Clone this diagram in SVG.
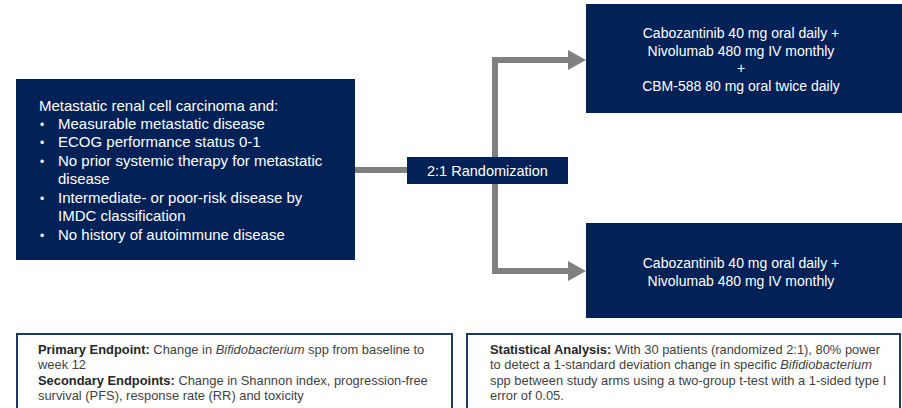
<svg xmlns="http://www.w3.org/2000/svg" width="902" height="408" viewBox="0 0 902 408">
<defs>
<style>
.box{fill:#012157;}
.wt{fill:#ffffff;font-family:"Liberation Sans",Arial,sans-serif;}
.crit{font-size:15px;}
.bul{font-size:12px;}
.arm{font-size:14px;text-anchor:middle;}
.rand{font-size:14.5px;text-anchor:middle;}
.note{fill:#ffffff;stroke:#1f3864;stroke-width:2;}
.nt{fill:#3f3f3f;font-family:"Liberation Sans",Arial,sans-serif;font-size:12.9px;}
.nt .b{font-weight:bold;fill:#262626;}
.conn{fill:none;stroke:#808080;stroke-width:6;}
.head{fill:#808080;}
</style>
</defs>
<rect width="902" height="408" fill="#ffffff"/>
<g id="connectors">
<line class="conn" x1="355" y1="170" x2="408" y2="170"/>
<polyline class="conn" points="572,60 495,60 495,271 572,271"/>
<polygon class="head" points="568,50 586,60 568,70"/>
<polygon class="head" points="568,261 586,271 568,281"/>
</g>
<g id="eligibility">
<rect class="box" x="16" y="79" width="339" height="181"/>
<text class="wt crit" x="39" y="111">Metastatic renal cell carcinoma and:</text>
<g class="wt crit">
<text class="bul" x="40" y="129">•</text><text x="58" y="129">Measurable metastatic disease</text>
<text class="bul" x="40" y="147">•</text><text x="58" y="147">ECOG performance status 0-1</text>
<text class="bul" x="40" y="166">•</text><text x="58" y="166">No prior systemic therapy for metastatic</text>
<text x="58" y="184">disease</text>
<text class="bul" x="40" y="203">•</text><text x="58" y="203">Intermediate- or poor-risk disease by</text>
<text x="58" y="221">IMDC classification</text>
<text class="bul" x="40" y="240">•</text><text x="58" y="240">No history of autoimmune disease</text>
</g>
</g>
<g id="randomization">
<rect class="box" x="407" y="157" width="161" height="27"/>
<text class="wt rand" x="487.5" y="176">2:1 Randomization</text>
</g>
<g id="arm1">
<rect class="box" x="586" y="4" width="316" height="109"/>
<text class="wt arm" x="741" y="38">Cabozantinib 40 mg oral daily +</text>
<text class="wt arm" x="741" y="56">Nivolumab 480 mg IV monthly</text>
<text class="wt arm" x="741" y="73">+</text>
<text class="wt arm" x="741" y="91">CBM-588 80 mg oral twice daily</text>
</g>
<g id="arm2">
<rect class="box" x="586" y="223" width="316" height="95"/>
<text class="wt arm" x="741" y="268">Cabozantinib 40 mg oral daily +</text>
<text class="wt arm" x="741" y="286">Nivolumab 480 mg IV monthly</text>
</g>
<g id="endpoints">
<rect class="note" x="17" y="334" width="435" height="80"/>
<text class="nt" x="38" y="354"><tspan class="b">Primary Endpoint:</tspan> Change in <tspan font-style="italic">Bifidobacterium</tspan> spp from baseline to</text>
<text class="nt" x="38" y="369">week 12</text>
<text class="nt" x="38" y="385"><tspan class="b">Secondary Endpoints:</tspan> Change in Shannon index, progression-free</text>
<text class="nt" x="38" y="400">survival (PFS), response rate (RR) and toxicity</text>
</g>
<g id="statistics">
<rect class="note" x="467" y="334" width="433" height="80"/>
<text class="nt" x="490" y="354"><tspan class="b">Statistical Analysis:</tspan> With 30 patients (randomized 2:1), 80% power</text>
<text class="nt" x="490" y="369">to detect a 1-standard deviation change in specific <tspan font-style="italic">Bifidiobacterium</tspan></text>
<text class="nt" x="490" y="385">spp between study arms using a two-group t-test with a 1-sided type I</text>
<text class="nt" x="490" y="400">error of 0.05.</text>
</g>
</svg>
